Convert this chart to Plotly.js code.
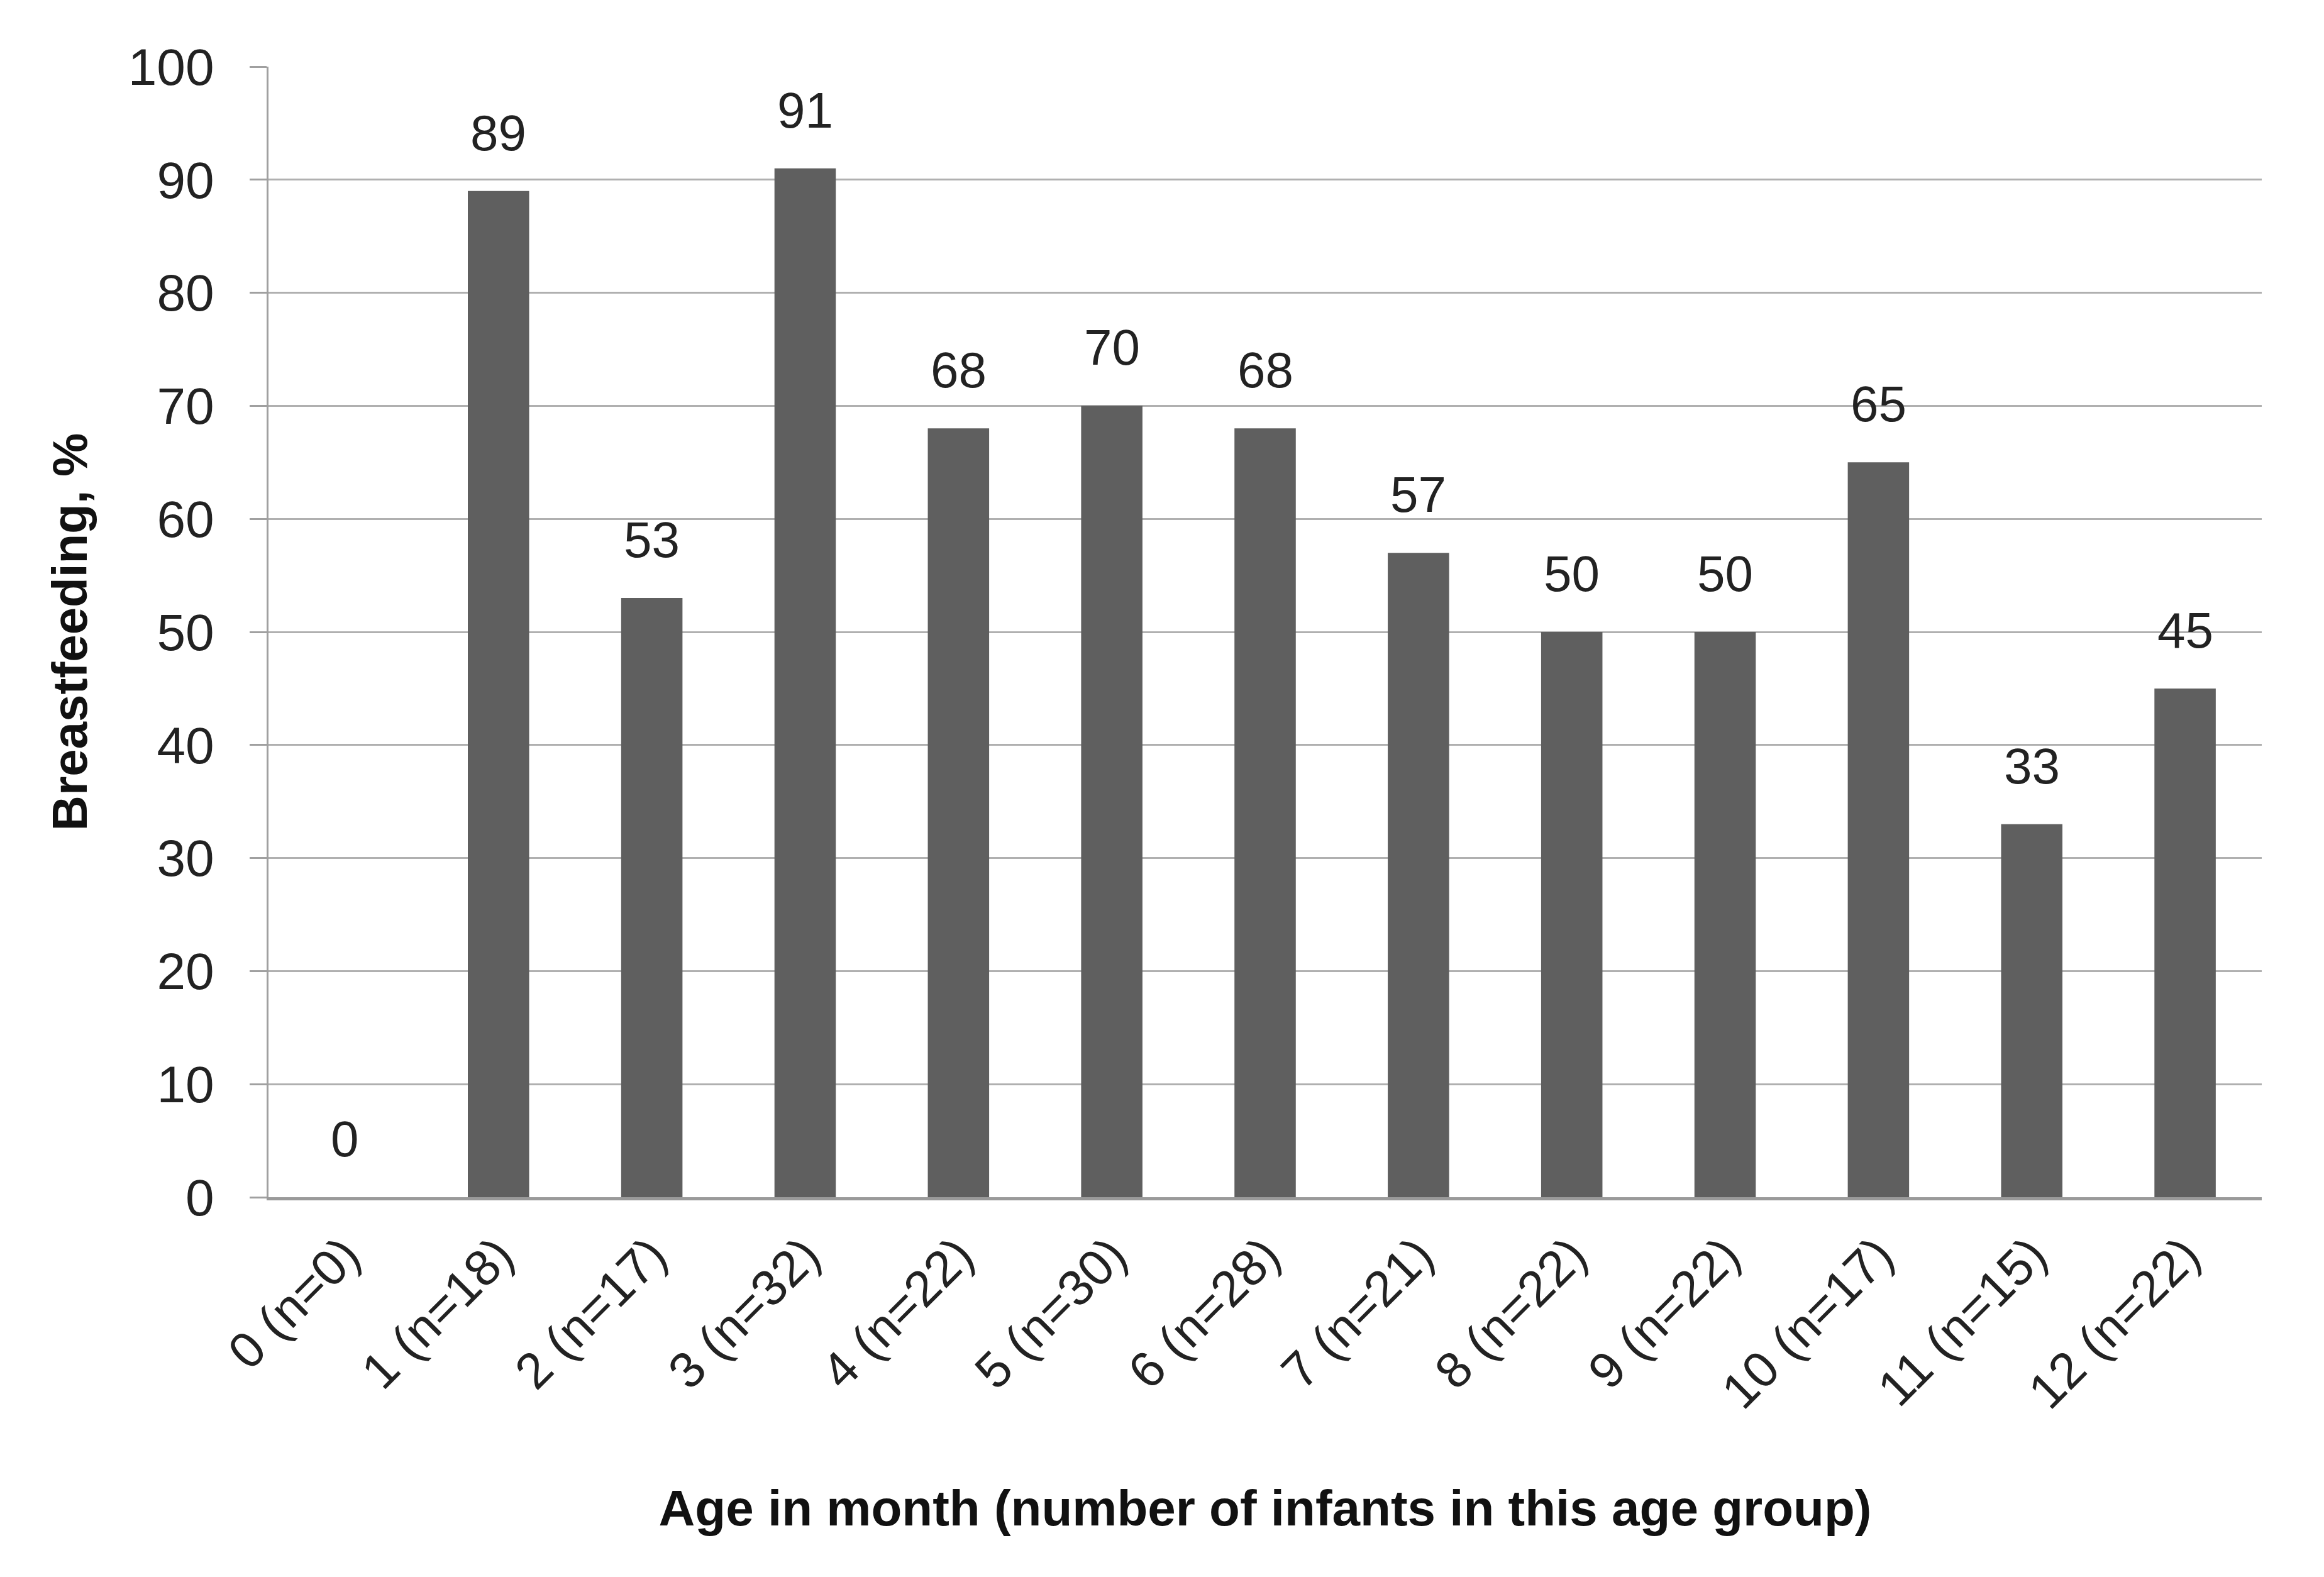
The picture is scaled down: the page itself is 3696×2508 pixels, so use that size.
<!DOCTYPE html>
<html>
<head>
<meta charset="utf-8">
<script src="https://cdn.plot.ly/plotly-3.0.1.min.js"></script>
<style>
  html, body { margin: 0; padding: 0; background: #fff; }
  #chart { width: 3696px; height: 2508px; }
</style>
</head>
<body>
<div id="chart"></div>
<script>
// age groups and sample size per group
const ages = ['0', '1', '2', '3', '4', '5', '6', '7', '8', '9', '10', '11', '12'];
const counts = [0, 18, 17, 32, 22, 30, 28, 21, 22, 22, 17, 15, 22];
// share of infants breastfed, %
const breastfeeding = [0, 89, 53, 91, 68, 70, 68, 57, 50, 50, 65, 33, 45];
const yTicks = [0, 10, 20, 30, 40, 50, 60, 70, 80, 90, 100];

const font = 'Liberation Sans, Arial, sans-serif';

const labels = ages.map(function(a, i){
  return a + ' (n=' + counts[i] + ')';
});

const trace = {
  x: labels,
  y: breastfeeding,
  type: 'bar',
  marker: {color: '#5f5f5f'},
  hoverinfo: 'x+y'
};

// value labels sit a little above each bar
const valueLabels = labels.map(function(l, i){
  return {
    x: l,
    y: breastfeeding[i],
    text: String(breastfeeding[i]),
    showarrow: false,
    xref: 'x',
    yref: 'y',
    yanchor: 'bottom',
    yshift: 46,
    font: {family: font, size: 80, color: '#222'}
  };
});

const layout = {
  width: 3696,
  height: 2508,
  margin: {l: 427, r: 99, t: 106, b: 604},
  paper_bgcolor: '#fff',
  plot_bgcolor: '#fff',
  bargap: 0.6,
  showlegend: false,
  font: {family: font, color: '#222'},
  xaxis: {
    type: 'category',
    tickangle: -45,
    tickfont: {family: font, size: 80, color: '#222'},
    ticklabelstandoff: 8,
    showline: true,
    linecolor: '#9a9a9a',
    linewidth: 5,
    ticks: '',
    showgrid: false,
    title: {
      text: '<b>Age in month (number of infants in this age group)</b>',
      font: {family: font, size: 80, color: '#111'},
      standoff: 115
    }
  },
  yaxis: {
    range: [0, 100],
    tickvals: yTicks,
    tickfont: {family: font, size: 82, color: '#222'},
    showline: true,
    linecolor: '#a0a0a0',
    linewidth: 3,
    ticks: 'outside',
    ticklen: 27,
    tickwidth: 3,
    tickcolor: '#a0a0a0',
    ticklabelstandoff: 40,
    showgrid: true,
    gridcolor: '#b0b0b0',
    gridwidth: 3,
    zeroline: false,
    title: {
      text: '<b>Breastfeeding, %</b>',
      font: {family: font, size: 78, color: '#111'},
      standoff: 40
    }
  },
  annotations: valueLabels
};

Plotly.newPlot('chart', [trace], layout, {displayModeBar: false, staticPlot: true});
</script>
</body>
</html>
